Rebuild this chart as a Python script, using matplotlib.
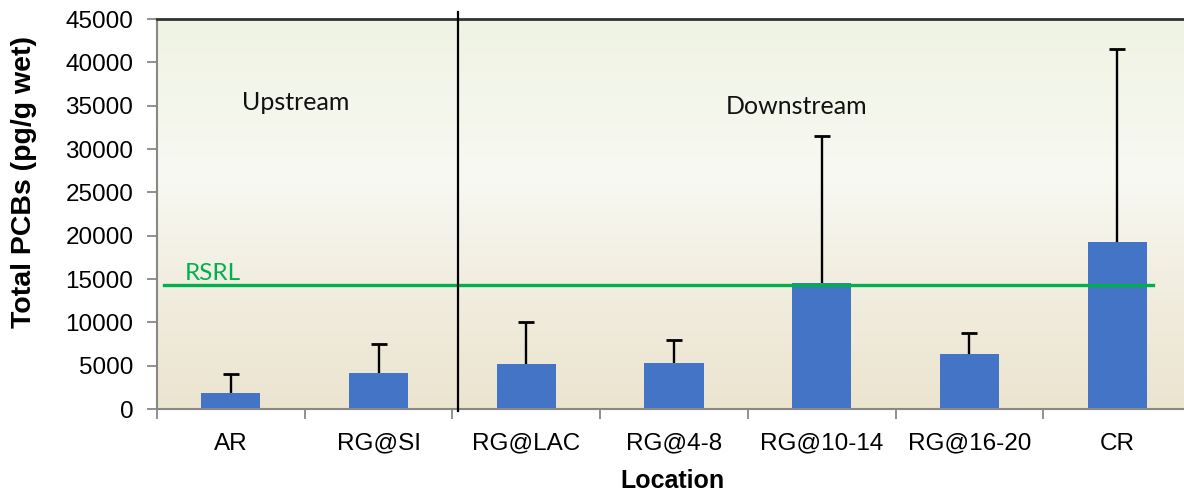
import numpy as np
import matplotlib
matplotlib.use("Agg")
import matplotlib.pyplot as plt
from matplotlib.colors import LinearSegmentedColormap

categories = ["AR", "RG@SI", "RG@LAC", "RG@4-8", "RG@10-14", "RG@16-20", "CR"]
means = [1850, 4150, 5200, 5300, 14500, 6300, 19300]
err_upper = [2200, 3350, 4850, 2700, 17000, 2450, 22200]
rsrl = 14300
y_ticks = [0, 5000, 10000, 15000, 20000, 25000, 30000, 35000, 40000, 45000]

plt.rcParams['font.family'] = ['Liberation Sans', 'DejaVu Sans']

fig = plt.figure(figsize=(11.84, 4.92), dpi=100)
W, H = 1184, 492
left, right, top, bottom = 157, 1191, 19, 409
ax = fig.add_axes([left / W, 1 - bottom / H, (right - left) / W, (bottom - top) / H])

# background gradient
cmap = LinearSegmentedColormap.from_list(
    "bg", [(0.0, "#ebe4cf"), (0.35, "#f2efe2"), (0.6, "#f8f9f2"), (1.0, "#eff3e3")])
grad = np.linspace(0, 1, 256).reshape(-1, 1)
ax.imshow(grad, extent=[-0.5, 6.5, 0, 45000], aspect='auto', cmap=cmap,
          origin='lower', zorder=0)

x = np.arange(len(categories))
ax.bar(x, means, width=0.4, color="#4474C5", zorder=2)
eb = ax.errorbar(x, means, yerr=[np.zeros(len(x)), err_upper], fmt='none',
                 ecolor='black', elinewidth=1.7, capsize=6, capthick=2, zorder=3)
# keep only the upper caps
for cl in eb[1]:
    yd = np.asarray(cl.get_ydata(), dtype=float)
    if np.allclose(yd, means):
        cl.set_visible(False)

ax.plot([-0.45, 6.24], [rsrl, rsrl], color="#00B050", lw=2.4, zorder=4)
ax.text(-0.31, rsrl + 150, "RSRL", color="#00B050", fontsize=17.5,
        family=['Lato', 'DejaVu Sans'], va='bottom', ha='left', zorder=5)

ax.plot([1.535, 1.535], [-200, 45800], color='black', lw=1.6, clip_on=False, zorder=5)

ax.text(0.44, 35400, "Upstream", fontsize=18, family=['Lato', 'DejaVu Sans'],
        ha='center', va='center', color='#111111')
ax.text(3.83, 34900, "Downstream", fontsize=18, family=['Lato', 'DejaVu Sans'],
        ha='center', va='center', color='#111111')

ax.set_xlim(-0.5, 6.5)
ax.set_ylim(0, 45000)
ax.set_yticks(y_ticks)
ax.set_yticklabels([str(v) for v in y_ticks], fontsize=17.5)
ax.set_xticks(x)
ax.set_xticklabels(categories, fontsize=17.5)
ax.tick_params(axis='x', length=0, pad=17)
ax.set_xticks(np.arange(-0.5, 7, 1), minor=True)
ax.tick_params(axis='x', which='minor', length=7, color='#888888', width=1.3)
ax.tick_params(axis='y', length=7, color='#888888', width=1.3, pad=10)

for s in ['left', 'bottom']:
    ax.spines[s].set_color('#888888')
    ax.spines[s].set_linewidth(1.5)
ax.spines['top'].set_color('#333333')
ax.spines['top'].set_linewidth(2)
ax.spines['right'].set_visible(False)

ax.set_ylabel("Total PCBs (pg/g wet)", fontsize=20.5, fontweight='bold')
ax.yaxis.set_label_coords((24 - left) / (right - left), (bottom - 182) / (bottom - top))
ax.set_xlabel("Location", fontsize=18, fontweight='bold')
ax.xaxis.set_label_coords((672 - left) / (right - left), -(481 - bottom) / (bottom - top))
ax.xaxis.label.set_va('center')
ax.yaxis.label.set_va('center')

fig.savefig("out.png", dpi=100)
